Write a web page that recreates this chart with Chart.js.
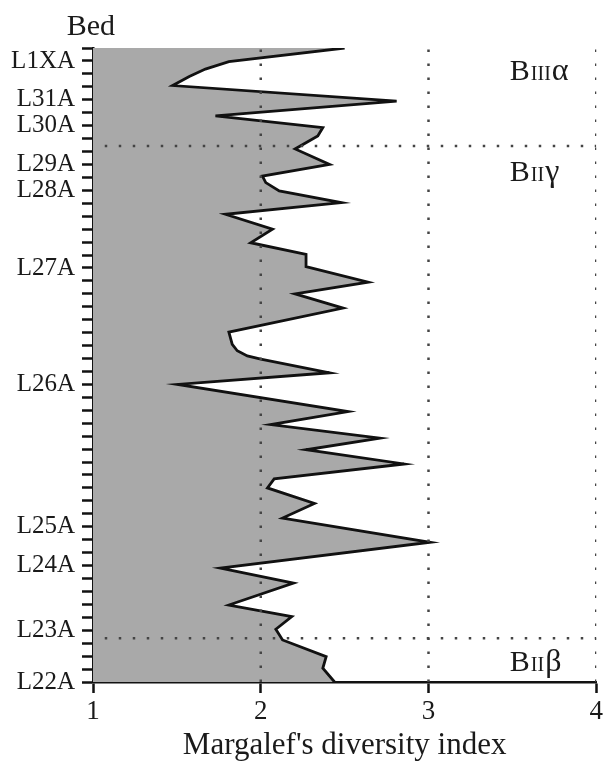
<!DOCTYPE html>
<html lang="en">
<head>
<meta charset="UTF-8">
<title>Margalef's diversity index</title>
<script src="https://cdn.jsdelivr.net/npm/chart.js"></script>
<style>
  html, body { margin: 0; padding: 0; background: #fff; }
  #wrap { width: 606px; height: 763px; }
</style>
</head>
<body>
<div id="wrap"><canvas id="chart" width="606" height="763"></canvas></div>
<script>
// sample level in the section (0 = L22A at the base, one step per sample)
const levels = [0, 1.06, 1.96, 3.25, 4.08, 5.05, 5.95, 7.65, 8.8, 10.8,
  12.67, 13.8, 15.0, 15.7, 16.85, 17.95, 18.85, 19.9, 20.9, 23.0,
  23.9, 24.95, 25.2, 25.6, 26.1, 27.05, 28.9, 30.0, 30.9, 32.1,
  33.05, 33.95, 35.0, 36.15, 37.05, 37.95, 38.6, 39.1, 40.0, 41.2,
  42.2, 42.85, 43.75, 44.9, 46.1, 46.8, 47.37, 47.94, 49];
// Margalef's diversity index at each level
const diversity = [2.44, 2.37, 2.39, 2.13, 2.09, 2.185, 1.81, 2.195, 1.76, 3.01,
  2.13, 2.32, 2.04, 2.08, 2.855, 2.27, 2.71, 2.06, 2.52, 1.505,
  2.41, 2.0, 1.92, 1.86, 1.83, 1.81, 2.49, 2.205, 2.64, 2.27,
  2.27, 1.94, 2.07, 1.79, 2.48, 2.11, 2.03, 2.01, 2.41, 2.205,
  2.34, 2.37, 1.73, 2.81, 1.475, 1.574, 1.67, 1.81, 2.50];

const bedTicks = [0, 4, 9, 12, 23, 32, 38, 40, 43, 45, 48];
const bedLabels = ['L22A', 'L23A', 'L24A', 'L25A', 'L26A', 'L27A', 'L28A', 'L29A', 'L30A', 'L31A', 'L1XA'];

const guideValues = [2, 3, 4];       // dotted verticals
const zoneBounds = [3.38, 41.43];    // dotted horizontals
const zoneNames = [['B', 'III', 'α'], ['B', 'II', 'γ'], ['B', 'II', 'β']];
const zoneLevels = [46.5, 38.7, 0.85];
const zoneX = 3.485;

const serif = "'Liberation Serif', 'Times New Roman', serif";
const ink = '#1a1a1a';

const datasets = [{
  data: levels.map((u, i) => ({x: diversity[i], y: u})),
  borderColor: '#111',
  borderWidth: 2.8,
  backgroundColor: '#a9a9a9',
  fill: {value: 1},
  pointRadius: 0,
  tension: 0,
  order: 2
}];

guideValues.forEach(g => {
  datasets.push({
    data: [{x: g, y: 0}, {x: g, y: 49}],
    borderColor: '#444',
    borderWidth: 2.5,
    borderDash: [2.5, 11.5],
    pointRadius: 0,
    fill: false,
    order: 1
  });
});
zoneBounds.forEach(b => {
  datasets.push({
    data: [{x: 1.07, y: b}, {x: 4, y: b}],
    borderColor: '#444',
    borderWidth: 2.5,
    borderDash: [2.5, 11.5],
    pointRadius: 0,
    fill: false,
    order: 1
  });
});

// zone names and the "Bed" heading
const zonePlugin = {
  id: 'zones',
  afterDatasetsDraw(chart) {
    const {ctx, scales: {x, y}, chartArea} = chart;
    ctx.save();
    ctx.fillStyle = ink;
    ctx.textBaseline = 'alphabetic';
    zoneNames.forEach((parts, i) => {
      let px = x.getPixelForValue(zoneX);
      const py = y.getPixelForValue(zoneLevels[i]);
      parts.forEach((t, j) => {
        ctx.font = (j === 1 ? '20px ' : (j === 2 ? '32px ' : '30px ')) + serif;
        ctx.fillText(t, px, py);
        px += ctx.measureText(t).width + 1;
      });
    });
    ctx.font = '30px ' + serif;
    ctx.textAlign = 'right';
    ctx.fillText('Bed', chartArea.left + 22, 35);
    ctx.restore();
  }
};

new Chart(document.getElementById('chart'), {
  type: 'line',
  data: {datasets},
  plugins: [zonePlugin],
  options: {
    responsive: false,
    animation: false,
    indexAxis: 'y',
    layout: {padding: {top: 48, right: 7, left: 0, bottom: 0}},
    plugins: {legend: {display: false}, tooltip: {enabled: false}},
    scales: {
      x: {
        type: 'linear',
        min: 1,
        max: 4,
        ticks: {stepSize: 1, color: ink, font: {family: serif, size: 27}, padding: 3},
        grid: {drawOnChartArea: false, drawTicks: true, tickLength: 11, tickWidth: 2.5, tickColor: '#111'},
        border: {color: '#111', width: 2.5},
        title: {display: true, text: "Margalef's diversity index", color: ink,
          font: {family: serif, size: 31, lineHeight: 1.1}, padding: 0},
        afterFit: s => { s.height = 81; }
      },
      y: {
        type: 'linear',
        min: 0,
        max: 49,
        ticks: {
          stepSize: 1,
          autoSkip: false,
          color: ink,
          font: {family: serif, size: 25},
          padding: 7,
          callback: v => {
            const i = bedTicks.indexOf(v);
            return i >= 0 ? bedLabels[i] : '';
          }
        },
        grid: {drawOnChartArea: false, drawTicks: true, tickLength: 11, tickWidth: 2.5, tickColor: '#111'},
        border: {color: '#111', width: 2.5},
        afterFit: s => { s.width = 93; }
      }
    }
  }
});
</script>
</body>
</html>
